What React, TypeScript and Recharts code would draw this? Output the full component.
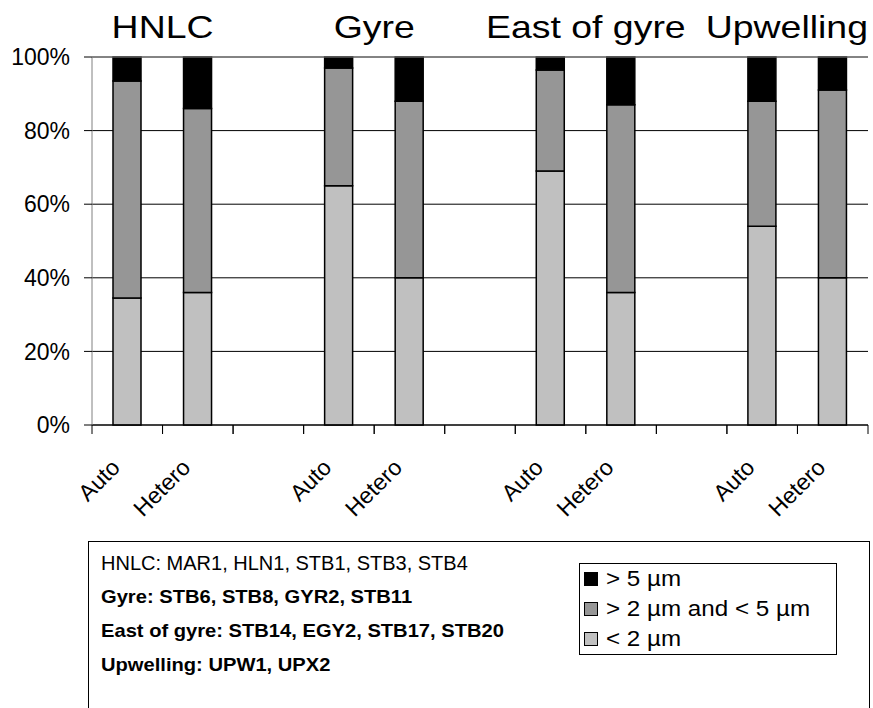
import React from 'react';
import { BarChart, Bar, XAxis, YAxis, CartesianGrid, ReferenceLine } from 'recharts';

// bar slots, empty ones are the gaps between regions
const categories = ['Auto', 'Hetero', '', 'Auto', 'Hetero', '', 'Auto', 'Hetero', '', 'Auto', 'Hetero'];
const under2 = [34.5, 36, null, 65, 40, null, 69, 36, null, 54, 40];
const between2and5 = [59, 50, null, 32, 48, null, 27.5, 51, null, 34, 51];
const over5 = [6.5, 14, null, 3, 12, null, 3.5, 13, null, 12, 9];

const regions = ['HNLC', 'Gyre', 'East of gyre', 'Upwelling'];
const regionStart = [0, 3, 6, 9];
const stations = [
  'HNLC: MAR1, HLN1, STB1, STB3, STB4',
  'Gyre: STB6, STB8, GYR2, STB11',
  'East of gyre: STB14, EGY2, STB17, STB20',
  'Upwelling: UPW1, UPX2',
];
const seriesNames = ['< 2 µm', '> 2 µm and < 5 µm', '>  5 µm'];
const seriesColors = ['#c0c0c0', '#969696', '#000000'];
const yTicks = [0, 20, 40, 60, 80, 100];

const W = 873;
const H = 708;
const M = { top: 57, right: 5, left: 0, bottom: 0 };
const Y_W = 92;
const PLOT_BOTTOM = 425;
const slot = (W - M.left - M.right - Y_W) / categories.length;

const data = categories.map((label, i) => ({
  label,
  under2: under2[i],
  mid: between2and5[i],
  over5: over5[i],
}));

function CategoryTick(props: any) {
  const { x, y, payload } = props;
  const lx = x - 6;
  const ly = y + 44;
  return (
    <g>
      <line x1={x - slot / 2} x2={x - slot / 2} y1={y} y2={y + 9} stroke="#000" />
      <line x1={x + slot / 2} x2={x + slot / 2} y1={y} y2={y + 9} stroke="#000" />
      {payload.value ? (
        <text
          x={lx}
          y={ly}
          transform={`rotate(-45, ${lx}, ${ly})`}
          textAnchor="end"
          fontSize={23}
          fill="#000"
        >
          {payload.value}
        </text>
      ) : null}
    </g>
  );
}

export default function App() {
  const font = '"Liberation Sans", Arial, sans-serif';
  const plotLeft = M.left + Y_W;
  const plotRight = W - M.right;
  return (
    <div
      style={{
        position: 'absolute',
        left: 0,
        top: 0,
        width: W,
        height: H,
        overflow: 'hidden',
        background: '#fff',
        fontFamily: font,
      }}
    >
      <BarChart
        width={W}
        height={H}
        data={data}
        margin={M}
        barSize={28}
        style={{ fontFamily: font }}
      >
        <CartesianGrid vertical={false} stroke="#000" strokeOpacity={1} />
        <XAxis
          dataKey="label"
          interval={0}
          height={H - PLOT_BOTTOM - M.bottom}
          tickLine={false}
          tickSize={0}
          tickMargin={0}
          axisLine={{ stroke: '#000' }}
          tick={<CategoryTick />}
        />
        <YAxis
          domain={[0, 100]}
          ticks={yTicks}
          width={Y_W}
          tickFormatter={(v: number) => `${v}%`}
          tick={{ fill: '#000', fontSize: 23 }}
          tickSize={8}
          tickMargin={14}
          tickLine={{ stroke: '#000' }}
          axisLine={{ stroke: '#808080' }}
        />
        <YAxis
          yAxisId="right"
          orientation="right"
          domain={[0, 100]}
          width={0}
          tick={false}
          tickLine={false}
          axisLine={{ stroke: '#888' }}
        />
        <ReferenceLine y={100} stroke="#888" />
        <Bar dataKey="under2" name={seriesNames[0]} stackId="a" fill={seriesColors[0]} stroke="#000" strokeWidth={1.5} isAnimationActive={false} />
        <Bar dataKey="mid" name={seriesNames[1]} stackId="a" fill={seriesColors[1]} stroke="#000" strokeWidth={1.5} isAnimationActive={false} />
        <Bar dataKey="over5" name={seriesNames[2]} stackId="a" fill={seriesColors[2]} stroke="#000" strokeWidth={1.5} isAnimationActive={false} />
      </BarChart>

      {/* region titles above the plot, a bit wider than the stock font */}
      <svg width={W} height={60} style={{ position: 'absolute', left: 0, top: 0 }}>
        {regions.map((r, i) => {
          const last = i === regions.length - 1;
          const cx = plotLeft + slot * (regionStart[i] + 1);
          const ax = last ? plotRight : cx;
          return (
            <text
              key={r}
              x={0}
              y={0}
              transform={`translate(${ax}, 38) scale(1.17, 1)`}
              textAnchor={last ? 'end' : 'middle'}
              fontSize={32}
              fontFamily={font}
              fill="#000"
            >
              {r}
            </text>
          );
        })}
      </svg>

      {/* station list box */}
      <div
        style={{
          position: 'absolute',
          left: 88,
          top: 541,
          width: 782,
          height: 200,
          border: '1.5px solid #000',
          boxSizing: 'border-box',
        }}
      >
        {stations.map((s, i) => (
          <div
            key={s}
            style={{
              position: 'absolute',
              left: 12,
              top: 8 + i * 34,
              fontSize: i === 0 ? 20 : 19,
              fontWeight: i === 0 ? 'normal' : 'bold',
              lineHeight: '26px',
              whiteSpace: 'nowrap',
              transform: i === 0 ? 'none' : 'scaleX(1.06)',
              transformOrigin: 'left center',
            }}
          >
            {s}
          </div>
        ))}
      </div>

      {/* series legend */}
      <div
        style={{
          position: 'absolute',
          left: 579,
          top: 563,
          width: 258,
          height: 92,
          border: '1px solid #000',
          background: '#fff',
          boxSizing: 'border-box',
        }}
      >
        {[2, 1, 0].map((k, row) => (
          <div
            key={k}
            style={{
              position: 'absolute',
              left: 4,
              top: 1 + row * 30,
              height: 28,
              display: 'flex',
              alignItems: 'center',
              fontSize: 22,
              whiteSpace: 'nowrap',
            }}
          >
            <span
              style={{
                display: 'inline-block',
                width: 12,
                height: 12,
                background: seriesColors[k],
                border: '1.5px solid #000',
                marginRight: 8,
              }}
            />
            <span style={{ display: 'inline-block', transform: 'scaleX(1.1)', transformOrigin: 'left center' }}>
              {seriesNames[k]}
            </span>
          </div>
        ))}
      </div>
    </div>
  );
}
